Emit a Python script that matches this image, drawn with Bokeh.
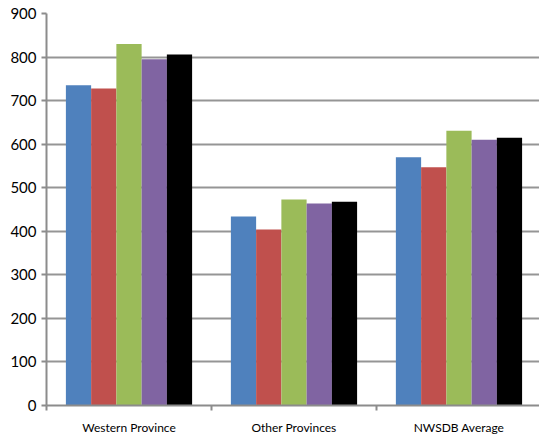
from bokeh.plotting import figure
from bokeh.models import Range1d, FixedTicker, ColumnDataSource
from bokeh.embed import file_html
from bokeh.resources import INLINE

categories = ["Western Province", "Other Provinces", "NWSDB Average"]
series1 = [735, 434, 570]
series2 = [728, 404, 547]
series3 = [830, 473, 631]
series4 = [795, 464, 610]
series5 = [806, 468, 615]
y_ticks = [0, 100, 200, 300, 400, 500, 600, 700, 800, 900]

all_series = [series1, series2, series3, series4, series5]
colors = ["#4F81BD", "#C0504D", "#9BBB59", "#8064A2", "#000000"]

p = figure(width=539, height=437, output_backend="svg", toolbar_location=None,
           x_range=Range1d(0, 2.988), y_range=Range1d(0, 900),
           min_border_left=46, min_border_right=0, min_border_top=13, min_border_bottom=32)
p.outline_line_color = None
p.background_fill_color = "white"

bw = 0.153
for k, vals in enumerate(all_series):
    xs = [i + 0.5 + (k - 2) * bw for i in range(len(categories))]
    src = ColumnDataSource(dict(x=xs, top=vals))
    p.vbar(x="x", top="top", width=bw, bottom=0, source=src,
           fill_color=colors[k], line_color=None)

# x axis
p.xaxis.ticker = FixedTicker(ticks=[i + 0.5 for i in range(len(categories))],
                             minor_ticks=list(range(len(categories) + 1)))
p.xaxis.major_label_overrides = {i + 0.5: c for i, c in enumerate(categories)}
p.xaxis.major_tick_out = 0
p.xaxis.major_tick_in = 0
p.xaxis.minor_tick_out = 5
p.xaxis.minor_tick_in = 0
p.xaxis.minor_tick_line_color = "#8c8c8c"
p.xaxis.minor_tick_line_width = 2
p.xaxis.axis_line_color = "#8c8c8c"
p.xaxis.axis_line_width = 2
p.xaxis.major_label_text_font = "Lato"
p.xaxis.major_label_text_font_size = "12px"
p.xaxis.major_label_text_color = "#000000"
p.xaxis.major_label_standoff = 9

# y axis
p.yaxis.ticker = FixedTicker(ticks=y_ticks, minor_ticks=[])
p.yaxis.major_tick_out = 5
p.yaxis.major_tick_in = 0
p.yaxis.major_tick_line_color = "#8c8c8c"
p.yaxis.major_tick_line_width = 2
p.yaxis.axis_line_color = "#8c8c8c"
p.yaxis.axis_line_width = 2
p.yaxis.major_label_text_font = "Lato"
p.yaxis.major_label_text_font_size = "15px"
p.yaxis.major_label_text_color = "#000000"
p.yaxis.major_label_standoff = 5

p.xgrid.grid_line_color = None
p.ygrid.ticker = FixedTicker(ticks=y_ticks)
p.ygrid.grid_line_color = "#959595"
p.ygrid.grid_line_width = 2

open("out.html", "w").write(file_html(p, INLINE))
